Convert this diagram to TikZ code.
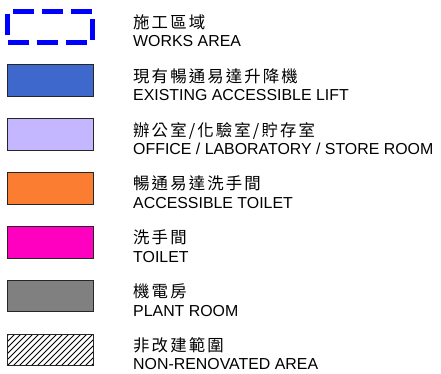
\documentclass[tikz,border=0pt]{standalone}
\usepackage{fontspec}
\setmainfont{Liberation Sans}
\newfontfamily\cjk[LetterSpace=13]{Noto Sans CJK TC}
\definecolor{liftblue}{RGB}{63,104,204}
\definecolor{lav}{RGB}{197,183,255}
\definecolor{orng}{RGB}{250,125,50}
\definecolor{pnk}{RGB}{255,0,192}
\definecolor{gry}{RGB}{128,128,128}
\definecolor{worksblue}{RGB}{0,0,255}
\begin{document}
\begin{tikzpicture}[x=1pt,y=-1pt,
  keybox/.style={draw=black!85,line width=1pt},
  zh/.style={anchor=base west,inner sep=0pt,font=\fontsize{16.4}{16.4}\selectfont\cjk},
  en/.style={anchor=base west,inner sep=0pt,font=\fontsize{15.9}{15.9}\selectfont}]
\useasboundingbox (0,0) rectangle (441,374);
% works area
\draw[worksblue,line width=4.5pt,dash pattern=on 21pt off 8pt,dash phase=-2pt] (7.5,11.7) rectangle (92.5,42.5);
% filled boxes
\foreach \c [count=\i] in {liftblue,lav,orng,pnk,gry}{
  \path[keybox,fill=\c] (7.3,{65+53.8*(\i-1)}) rectangle (93,{65+53.8*(\i-1)+31.7});
}
% hatched
\begin{scope}
  \clip (7.3,334) rectangle (93,365.7);
  \foreach \k in {-6,...,16}{
    \draw[line width=0.8pt] ({7.3+6*\k},365.7) -- ({7.3+6*\k+31.7},334);
  }
\end{scope}
\draw[keybox,fill=none] (7.3,334) rectangle (93,365.7);
% labels
\node[zh] (z1) at (133,28.5) {施工區域};
\node[en] (e1) at (133,47) {WORKS AREA};
\node[zh] (z2) at (133,82.3) {現有暢通易達升降機};
\node[en] (e2) at (133,100.8) {EXISTING ACCESSIBLE LIFT};
\node[zh] (z3) at (133,136.1) {辦公室/化驗室/貯存室};
\node[en] (e3) at (133,154.6) {OFFICE / LABORATORY / STORE ROOM};
\node[zh] (z4) at (133,189.9) {暢通易達洗手間};
\node[en] (e4) at (133,208.4) {ACCESSIBLE TOILET};
\node[zh] (z5) at (133,243.7) {洗手間};
\node[en] (e5) at (133,262.2) {TOILET};
\node[zh] (z6) at (133,297.5) {機電房};
\node[en] (e6) at (133,316) {PLANT ROOM};
\node[zh] (z7) at (133,351.3) {非改建範圍};
\node[en] (e7) at (133,369.8) {NON-RENOVATED AREA};
\end{tikzpicture}
\end{document}
